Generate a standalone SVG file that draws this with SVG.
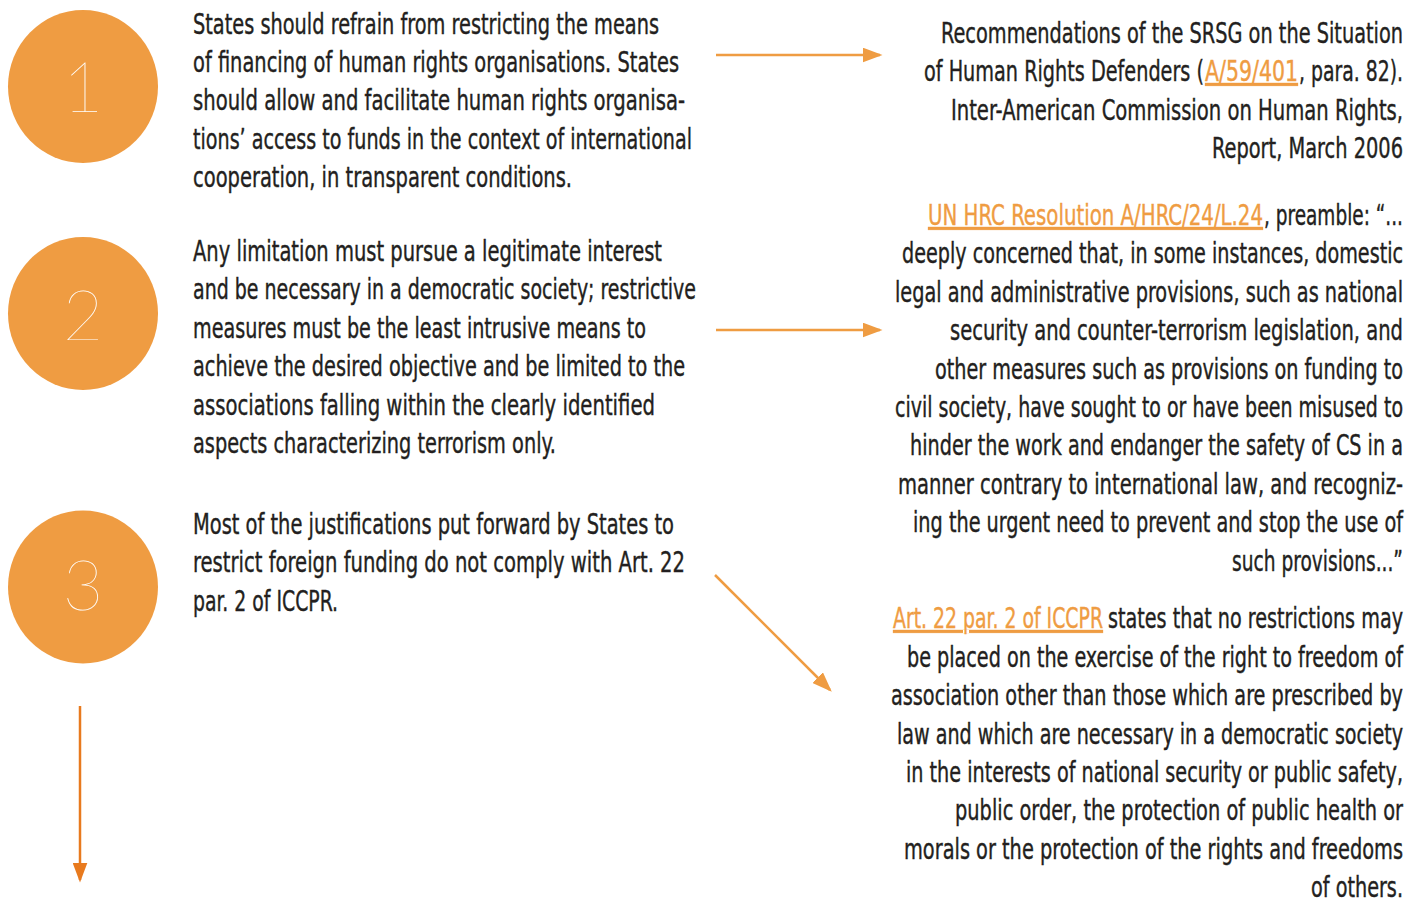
<svg xmlns="http://www.w3.org/2000/svg" width="1423" height="900" viewBox="0 0 1423 900">
<style>
.t{font-family:"Liberation Sans Narrow","DejaVu Sans Condensed","Liberation Sans",sans-serif;font-size:29px;fill:#231F20;stroke:#231F20;stroke-width:0.4}
.r{text-anchor:end}
.lk{fill:#EF9C42;stroke:#EF9C42;text-decoration:underline}
.num{font-family:"Lato","Open Sans",sans-serif;font-weight:200;font-size:70px;fill:#FFFFFF;text-anchor:middle}
.circ{fill:#EF9C42}
.conn{stroke:#EF9C42;stroke-width:2.5;fill:none}
.conn2{stroke:#E87A1E;stroke-width:2.5;fill:none}
</style>
<defs>
<marker id="ah" markerWidth="8" markerHeight="6" refX="7" refY="3" orient="auto" markerUnits="strokeWidth">
<path d="M0,0 L8,3 L0,6 Z" fill="#EF9C42"/>
</marker>
<marker id="ah2" markerWidth="8" markerHeight="6" refX="7" refY="3" orient="auto" markerUnits="strokeWidth">
<path d="M0,0 L8,3 L0,6 Z" fill="#E87A1E"/>
</marker>
</defs>

<g id="node1">
<ellipse class="circ" cx="83" cy="86.5" rx="75" ry="76.5"/>
<text class="num" x="83" y="112">1</text>
</g>
<g id="node2">
<ellipse class="circ" cx="83" cy="313.5" rx="75" ry="76.5"/>
<text class="num" x="83" y="340">2</text>
</g>
<g id="node3">
<ellipse class="circ" cx="83" cy="587" rx="75" ry="76.5"/>
<text class="num" x="83" y="610">3</text>
</g>

<g id="text1">
<text class="t" x="193" y="34" textLength="466" lengthAdjust="spacingAndGlyphs">States should refrain from restricting the means</text>
<text class="t" x="193" y="72" textLength="486" lengthAdjust="spacingAndGlyphs">of financing of human rights organisations. States</text>
<text class="t" x="193" y="110" textLength="492" lengthAdjust="spacingAndGlyphs">should allow and facilitate human rights organisa-</text>
<text class="t" x="193" y="149" textLength="499" lengthAdjust="spacingAndGlyphs">tions’ access to funds in the context of international</text>
<text class="t" x="193" y="187" textLength="379" lengthAdjust="spacingAndGlyphs">cooperation, in transparent conditions.</text>
</g>

<g id="text2">
<text class="t" x="193" y="261" textLength="469" lengthAdjust="spacingAndGlyphs">Any limitation must pursue a legitimate interest</text>
<text class="t" x="193" y="299" textLength="503" lengthAdjust="spacingAndGlyphs">and be necessary in a democratic society; restrictive</text>
<text class="t" x="193" y="338" textLength="453" lengthAdjust="spacingAndGlyphs">measures must be the least intrusive means to</text>
<text class="t" x="193" y="376" textLength="492" lengthAdjust="spacingAndGlyphs">achieve the desired objective and be limited to the</text>
<text class="t" x="193" y="415" textLength="462" lengthAdjust="spacingAndGlyphs">associations falling within the clearly identified</text>
<text class="t" x="193" y="453" textLength="363" lengthAdjust="spacingAndGlyphs">aspects characterizing terrorism only.</text>
</g>

<g id="text3">
<text class="t" x="193" y="534" textLength="481" lengthAdjust="spacingAndGlyphs">Most of the justifications put forward by States to</text>
<text class="t" x="193" y="572" textLength="492" lengthAdjust="spacingAndGlyphs">restrict foreign funding do not comply with Art. 22</text>
<text class="t" x="193" y="611" textLength="145" lengthAdjust="spacingAndGlyphs">par. 2 of ICCPR.</text>
</g>

<g id="ref1">
<text class="t r" x="1403" y="43" textLength="462" lengthAdjust="spacingAndGlyphs">Recommendations of the SRSG on the Situation</text>
<text class="t" x="924" y="81" textLength="280" lengthAdjust="spacingAndGlyphs">of Human Rights Defenders (</text>
<text class="t lk" x="1205" y="81" textLength="93" lengthAdjust="spacingAndGlyphs">A/59/401</text>
<text class="t" x="1299" y="81" textLength="104" lengthAdjust="spacingAndGlyphs">, para. 82).</text>
<text class="t r" x="1403" y="120" textLength="452" lengthAdjust="spacingAndGlyphs">Inter-American Commission on Human Rights,</text>
<text class="t r" x="1403" y="158" textLength="191" lengthAdjust="spacingAndGlyphs">Report, March 2006</text>
</g>

<g id="ref2">
<text class="t lk" x="928" y="225" textLength="335" lengthAdjust="spacingAndGlyphs">UN HRC Resolution A/HRC/24/L.24</text>
<text class="t" x="1264" y="225" textLength="139" lengthAdjust="spacingAndGlyphs">, preamble: “...</text>
<text class="t r" x="1403" y="263" textLength="501" lengthAdjust="spacingAndGlyphs">deeply concerned that, in some instances, domestic</text>
<text class="t r" x="1403" y="302" textLength="508" lengthAdjust="spacingAndGlyphs">legal and administrative provisions, such as national</text>
<text class="t r" x="1403" y="340" textLength="453" lengthAdjust="spacingAndGlyphs">security and counter-terrorism legislation, and</text>
<text class="t r" x="1403" y="379" textLength="468" lengthAdjust="spacingAndGlyphs">other measures such as provisions on funding to</text>
<text class="t r" x="1403" y="417" textLength="508" lengthAdjust="spacingAndGlyphs">civil society, have sought to or have been misused to</text>
<text class="t r" x="1403" y="455" textLength="493" lengthAdjust="spacingAndGlyphs">hinder the work and endanger the safety of CS in a</text>
<text class="t r" x="1403" y="494" textLength="505" lengthAdjust="spacingAndGlyphs">manner contrary to international law, and recogniz-</text>
<text class="t r" x="1403" y="532" textLength="490" lengthAdjust="spacingAndGlyphs">ing the urgent need to prevent and stop the use of</text>
<text class="t r" x="1403" y="571" textLength="171" lengthAdjust="spacingAndGlyphs">such provisions...”</text>
</g>

<g id="ref3">
<text class="t lk" x="893" y="628" textLength="210" lengthAdjust="spacingAndGlyphs">Art. 22 par. 2 of ICCPR</text>
<text class="t r" x="1403" y="628" textLength="295" lengthAdjust="spacingAndGlyphs">states that no restrictions may</text>
<text class="t r" x="1403" y="667" textLength="496" lengthAdjust="spacingAndGlyphs">be placed on the exercise of the right to freedom of</text>
<text class="t r" x="1403" y="705" textLength="512" lengthAdjust="spacingAndGlyphs">association other than those which are prescribed by</text>
<text class="t r" x="1403" y="744" textLength="506" lengthAdjust="spacingAndGlyphs">law and which are necessary in a democratic society</text>
<text class="t r" x="1403" y="782" textLength="497" lengthAdjust="spacingAndGlyphs">in the interests of national security or public safety,</text>
<text class="t r" x="1403" y="820" textLength="448" lengthAdjust="spacingAndGlyphs">public order, the protection of public health or</text>
<text class="t r" x="1403" y="859" textLength="499" lengthAdjust="spacingAndGlyphs">morals or the protection of the rights and freedoms</text>
<text class="t r" x="1403" y="897" textLength="92" lengthAdjust="spacingAndGlyphs">of others.</text>
</g>

<g id="connectors">
<line class="conn" x1="716" y1="55" x2="880" y2="55" marker-end="url(#ah)"/>
<line class="conn" x1="716" y1="330" x2="880" y2="330" marker-end="url(#ah)"/>
<line class="conn" x1="715" y1="575" x2="830" y2="690" marker-end="url(#ah)"/>
<line class="conn2" x1="80" y1="706" x2="80" y2="880" marker-end="url(#ah2)"/>
</g>
</svg>
